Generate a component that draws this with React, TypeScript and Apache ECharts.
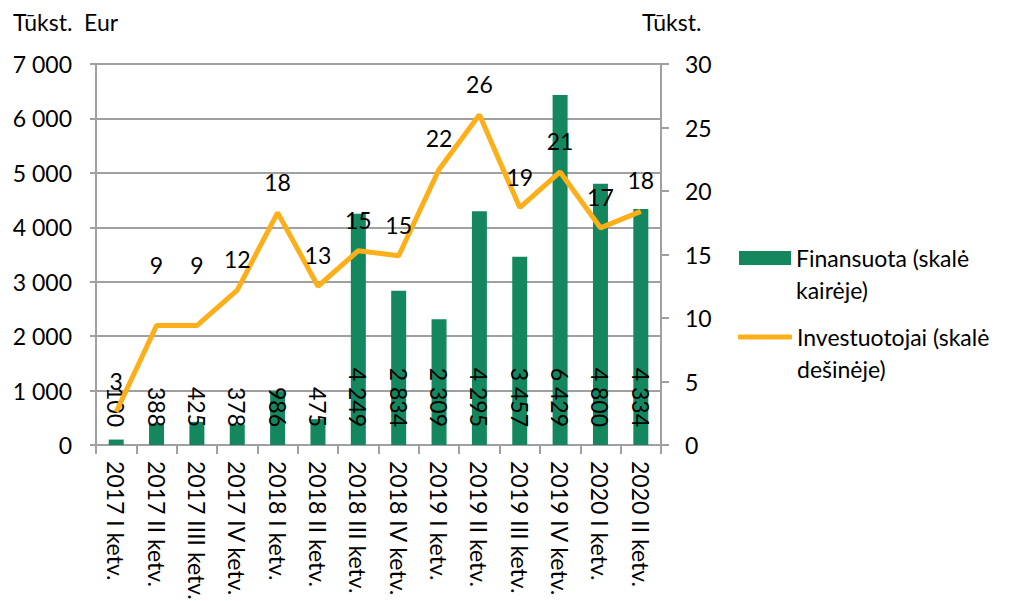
import React, { useEffect, useRef } from "react";
import * as echarts from "echarts";

const categories = [
  "2017 I ketv.", "2017 II ketv.", "2017 IIII ketv.", "2017 IV ketv.",
  "2018 I ketv.", "2018 II ketv.", "2018 III ketv.", "2018 IV ketv.",
  "2019 I ketv.", "2019 II ketv.", "2019 III ketv.", "2019 IV ketv.",
  "2020 I ketv.", "2020 II ketv.",
];
const financed = [100, 388, 425, 378, 986, 475, 4249, 2834, 2309, 4295, 3457, 6429, 4800, 4334];
const investors = [2.6, 9.4, 9.4, 12.2, 18.3, 12.5, 15.3, 14.9, 21.7, 26.0, 18.7, 21.5, 17.1, 18.4];
const investorLabels = [3, 9, 9, 12, 18, 13, 15, 15, 22, 26, 19, 21, 17, 18];
const leftTicks = { min: 0, max: 7000, interval: 1000 };
const rightTicks = { min: 0, max: 30, interval: 5 };

const SERIES_BAR = "Finansuota (skalė kairėje)";
const SERIES_LINE = "Investuotojai (skalė dešinėje)";

const FONT = "Lato";
const FS = 23;
const GREEN = "#15875F";
const ORANGE = "#FDAF1A";
const GREY = "#A0A0A0";

const fmt = (v: number) => String(Math.round(v)).replace(/\B(?=(\d{3})+(?!\d))/g, " ");

export default function App() {
  const ref = useRef<HTMLDivElement>(null);
  useEffect(() => {
    if (!ref.current) return;
    const chart = echarts.init(ref.current, null, { renderer: "svg" });
    const text = { fontFamily: FONT, fontSize: FS, color: "#000" };
    chart.setOption({
      animation: false,
      backgroundColor: "#fff",
      textStyle: { fontFamily: FONT },
      grid: { left: 96, right: 348, top: 64, bottom: 156, outerBoundsMode: "none", containLabel: false },
      graphic: [
        { type: "text", left: 13, top: 10, style: { text: "Tūkst.  Eur", font: `${FS}px ${FONT}`, fill: "#000" } },
        { type: "text", left: 642, top: 10, style: { text: "Tūkst.", font: `${FS}px ${FONT}`, fill: "#000" } },
      ],
      legend: [
        {
          data: [SERIES_BAR],
          left: 739,
          top: 210,
          padding: 0,
          orient: "vertical",
          icon: "rect",
          itemWidth: 52,
          itemHeight: 14,
          formatter: () => "\nFinansuota (skalė\nkairėje)",
          textStyle: { ...text, lineHeight: 32 },
        },
        {
          data: [{ name: SERIES_LINE, icon: "roundRect", itemStyle: { color: ORANGE, opacity: 1 } }],
          left: 738,
          top: 289,
          padding: 0,
          orient: "vertical",
          itemWidth: 54,
          itemHeight: 5,
          itemStyle: { color: ORANGE, opacity: 1 },
          formatter: () => "\nInvestuotojai (skalė\ndešinėje)",
          textStyle: { ...text, lineHeight: 32 },
        },
      ],
      xAxis: {
        type: "category",
        data: categories,
        axisLine: { lineStyle: { color: GREY, width: 2 } },
        axisTick: { show: true, length: 9, lineStyle: { color: GREY, width: 2 } },
        axisLabel: {
          ...text,
          rotate: -90,
          margin: 16,
          interval: 0,
          overflow: "none",
          hideOverlap: false,
          formatter: (v: string) => v.replace(/ /g, "\u00A0"),
        },
      },
      yAxis: [
        {
          type: "value",
          ...leftTicks,
          position: "left",
          axisLine: { show: true, lineStyle: { color: GREY, width: 2 } },
          axisTick: { show: true, length: 6, lineStyle: { color: GREY, width: 2 } },
          splitLine: { show: true, lineStyle: { color: GREY, width: 2 } },
          axisLabel: { ...text, margin: 24, formatter: (v: number) => fmt(v) },
        },
        {
          type: "value",
          ...rightTicks,
          position: "right",
          axisLine: { show: true, lineStyle: { color: GREY, width: 2 } },
          axisTick: { show: true, length: 8, lineStyle: { color: GREY, width: 2 } },
          splitLine: { show: false },
          axisLabel: { ...text, margin: 24 },
        },
      ],
      series: [
        {
          name: SERIES_BAR,
          type: "bar",
          yAxisIndex: 0,
          data: financed,
          barWidth: 15,
          itemStyle: { color: GREEN },
          label: {
            show: true,
            position: "insideBottom",
            distance: 18,
            rotate: -90,
            align: "right",
            verticalAlign: "middle",
            ...text,
            formatter: (p: any) => fmt(p.value),
          },
        },
        {
          name: SERIES_LINE,
          type: "line",
          yAxisIndex: 1,
          data: investors.map((v, i) => ({
            value: v,
            label: i === 1 || i === 2 ? { distance: 49 } : undefined,
          })),
          symbol: "circle",
          symbolSize: 1,
          showSymbol: true,
          lineStyle: { color: ORANGE, width: 5 },
          itemStyle: { color: "rgba(0,0,0,0)" },
          label: {
            show: true,
            position: "top",
            distance: 19,
            ...text,
            formatter: (p: any) => String(investorLabels[p.dataIndex]),
          },
          labelLayout: { hideOverlap: false },
          z: 3,
        },
      ],
    });
    return () => chart.dispose();
  }, []);
  return <div ref={ref} style={{ position: "fixed", left: 0, top: 0, width: 1009, height: 601 }} />;
}
